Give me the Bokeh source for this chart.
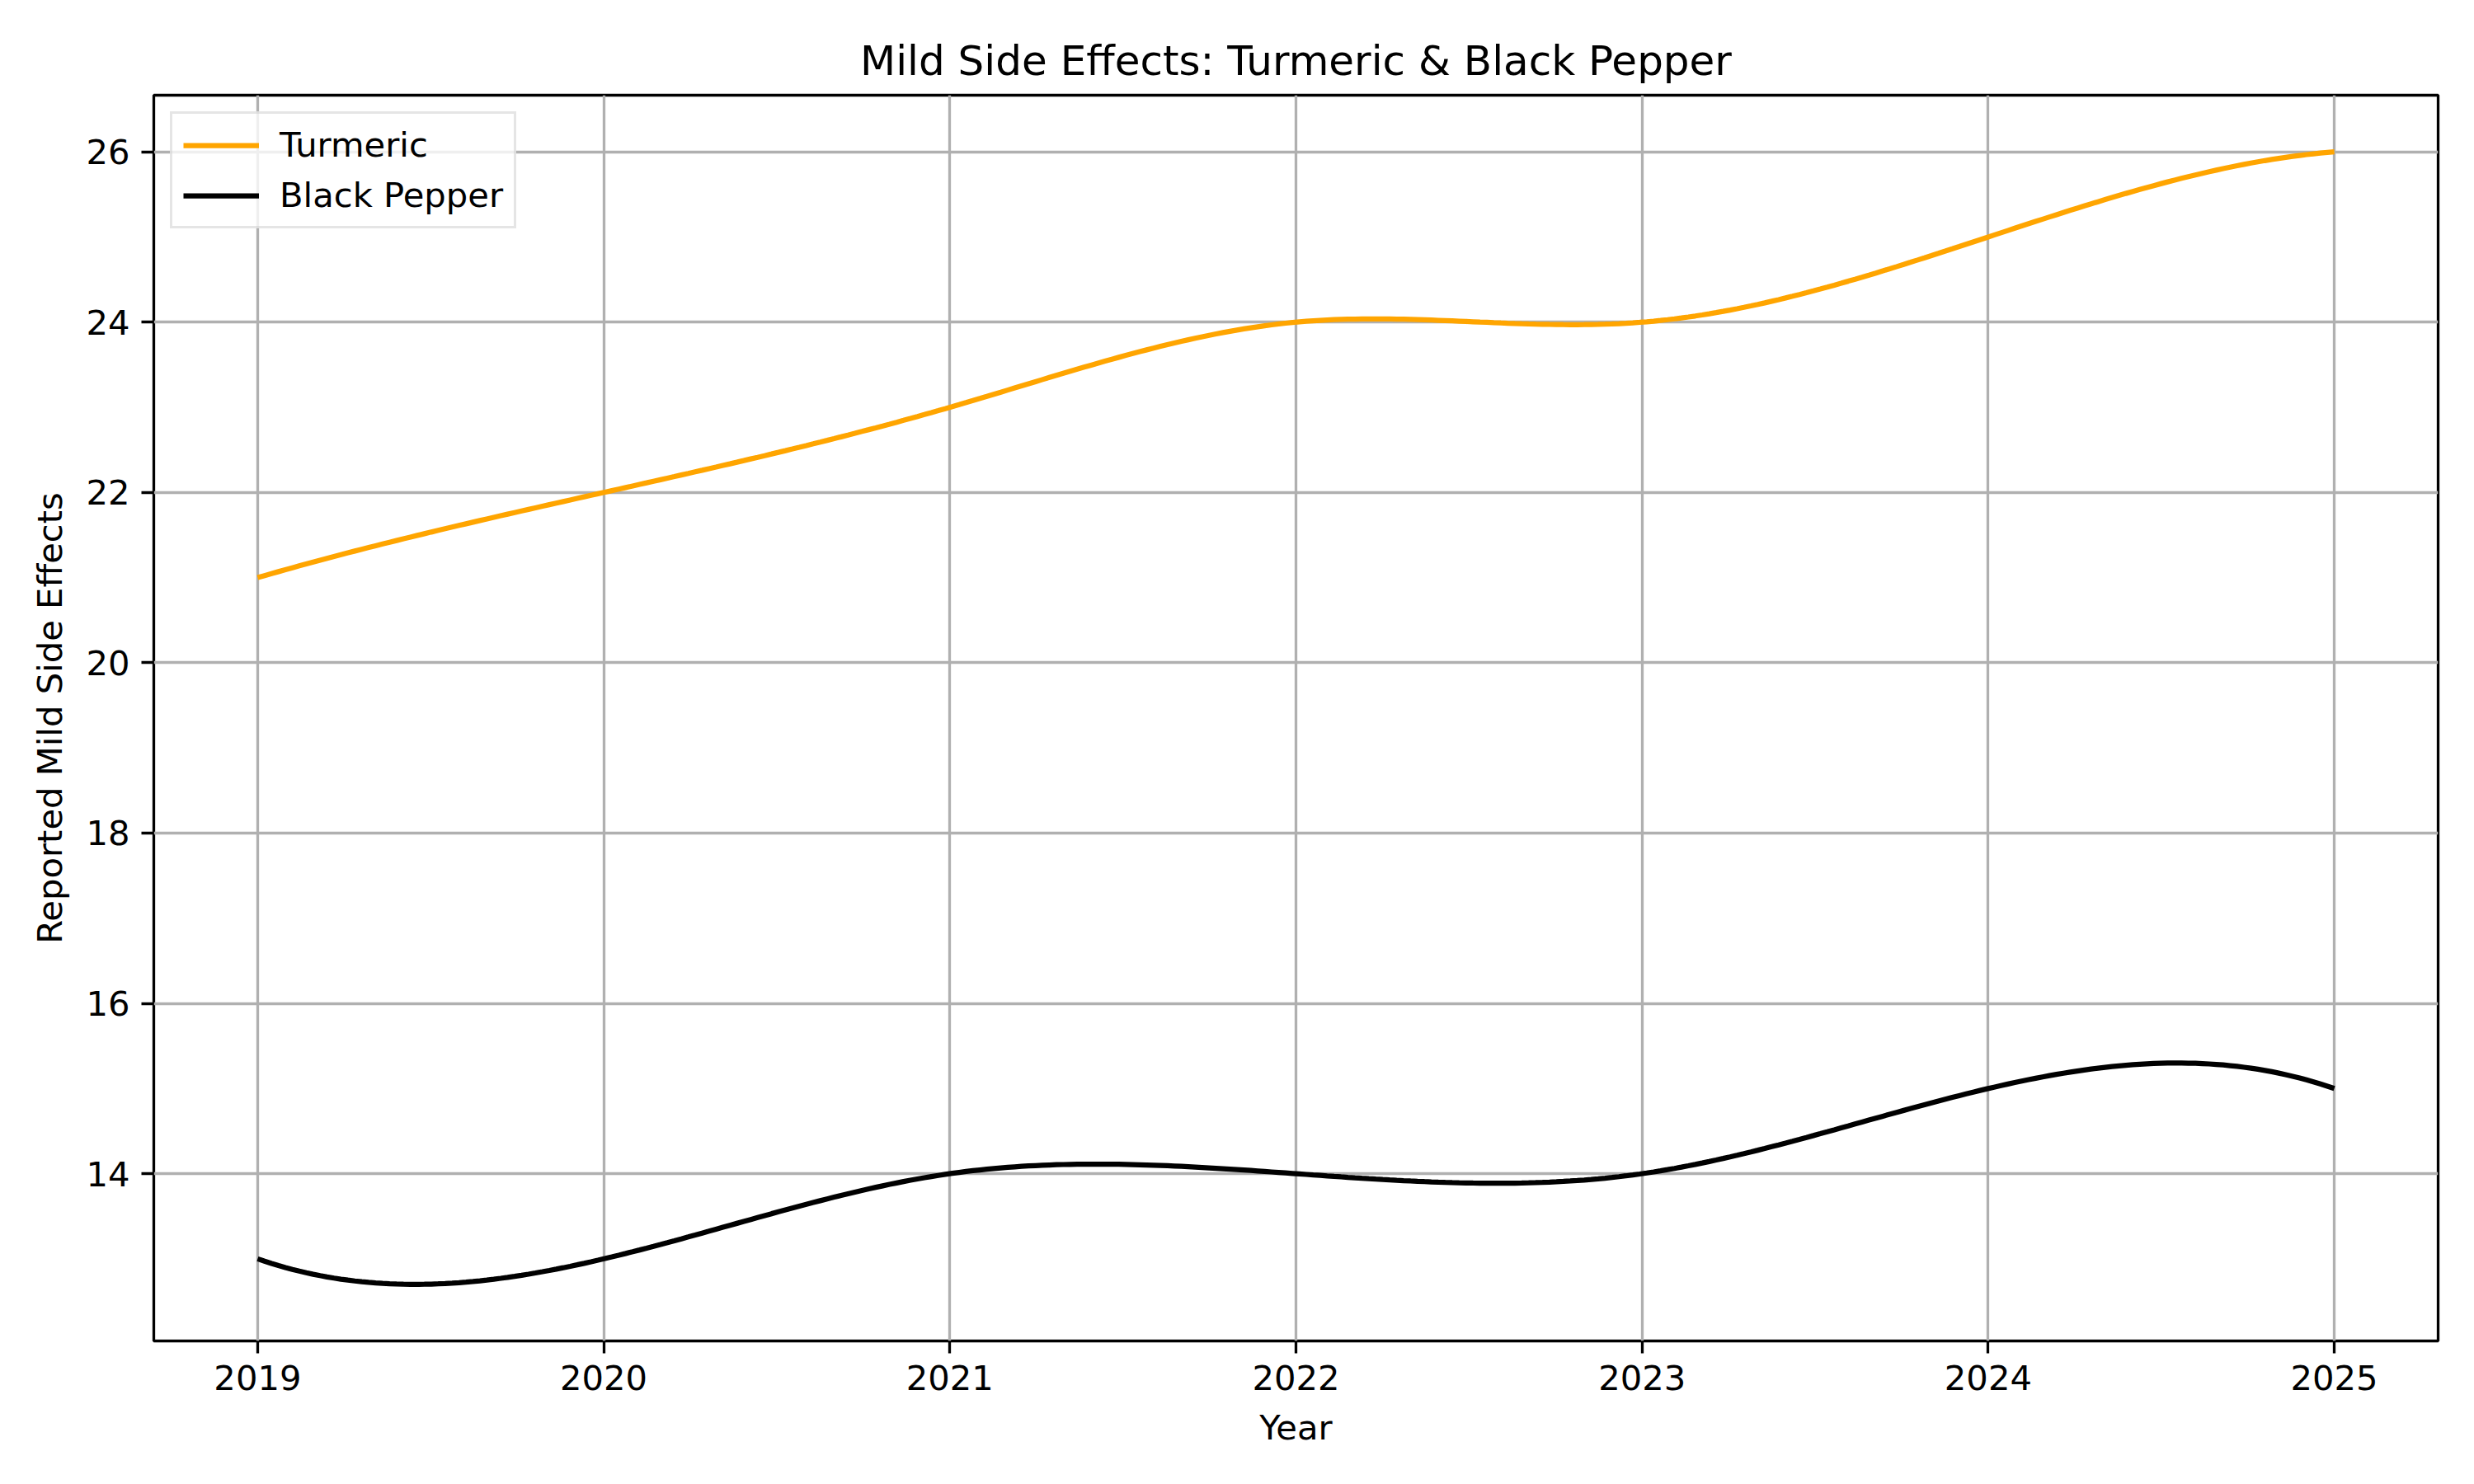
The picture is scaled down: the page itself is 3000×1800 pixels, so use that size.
import numpy as np
from bokeh.plotting import figure
from bokeh.models import Range1d, FixedTicker
from bokeh.embed import file_html
from bokeh.resources import INLINE

years = [2019, 2020, 2021, 2022, 2023, 2024, 2025]
turmeric = [21, 22, 23, 24, 24, 25, 26]
black_pepper = [13, 13, 14, 14, 14, 15, 15]
x_ticks = [2019, 2020, 2021, 2022, 2023, 2024, 2025]
y_ticks = [14, 16, 18, 20, 22, 24, 26]

FONT = "DejaVu Sans"


def spline_not_a_knot(x, y, xs):
    x = np.asarray(x, float)
    y = np.asarray(y, float)
    n = len(x)
    m = n - 1
    A = np.zeros((4 * m, 4 * m))
    b = np.zeros(4 * m)
    row = 0
    for i in range(m):
        h = x[i + 1] - x[i]
        A[row, 4 * i] = 1
        b[row] = y[i]
        row += 1
        A[row, 4 * i:4 * i + 4] = [1, h, h * h, h ** 3]
        b[row] = y[i + 1]
        row += 1
    for i in range(m - 1):
        h = x[i + 1] - x[i]
        A[row, 4 * i:4 * i + 4] = [0, 1, 2 * h, 3 * h * h]
        A[row, 4 * (i + 1) + 1] = -1
        row += 1
        A[row, 4 * i:4 * i + 4] = [0, 0, 2, 6 * h]
        A[row, 4 * (i + 1) + 2] = -2
        row += 1
    A[row, 3] = 1
    A[row, 7] = -1
    row += 1
    A[row, 4 * (m - 2) + 3] = 1
    A[row, 4 * (m - 1) + 3] = -1
    coef = np.linalg.solve(A, b).reshape(m, 4)
    idx = np.clip(np.searchsorted(x, xs, side="right") - 1, 0, m - 1)
    t = xs - x[idx]
    c = coef[idx]
    return c[:, 0] + c[:, 1] * t + c[:, 2] * t ** 2 + c[:, 3] * t ** 3


xs = np.linspace(min(years), max(years), 300)
t_s = spline_not_a_knot(years, turmeric, xs)
b_s = spline_not_a_knot(years, black_pepper, xs)

lo = min(t_s.min(), b_s.min())
hi = max(t_s.max(), b_s.max())
pad_y = 0.05 * (hi - lo)
pad_x = 0.05 * (max(years) - min(years))

p = figure(
    output_backend="svg",
    toolbar_location=None,
    frame_width=2770,
    frame_height=1511,
    min_border_left=186,
    min_border_right=36,
    min_border_top=115,
    min_border_bottom=150,
    x_range=Range1d(min(years) - pad_x, max(years) + pad_x),
    y_range=Range1d(lo - pad_y, hi + pad_y),
    title="Mild Side Effects: Turmeric & Black Pepper",
)

p.background_fill_color = "white"
p.border_fill_color = "white"
p.outline_line_color = "black"
p.outline_line_width = 3.3

p.title.text_font = FONT
p.title.text_font_size = "50px"
p.title.text_font_style = "normal"
p.title.align = "center"
p.title.text_color = "black"
p.title.standoff = 26

for ax in (p.xaxis[0], p.yaxis[0]):
    ax.axis_line_color = None
    ax.major_tick_line_color = "black"
    ax.major_tick_line_width = 3.3
    ax.major_tick_out = 15
    ax.major_tick_in = 0
    ax.minor_tick_line_color = None
    ax.major_label_text_font = FONT
    ax.major_label_text_font_size = "41.7px"
    ax.major_label_text_color = "black"
    ax.major_label_standoff = 14
    ax.axis_label_text_font = FONT
    ax.axis_label_text_font_size = "41.7px"
    ax.axis_label_text_font_style = "normal"
    ax.axis_label_text_color = "black"
    ax.axis_label_standoff = 16

p.xaxis[0].axis_label_standoff = 18
p.xaxis[0].ticker = FixedTicker(ticks=x_ticks)
p.yaxis[0].ticker = FixedTicker(ticks=y_ticks)
p.xaxis[0].axis_label = "Year"
p.yaxis[0].axis_label = "Reported Mild Side Effects"

p.xgrid.ticker = FixedTicker(ticks=x_ticks)
p.ygrid.ticker = FixedTicker(ticks=y_ticks)
for g in (p.xgrid[0], p.ygrid[0]):
    g.grid_line_color = "#b0b0b0"
    g.grid_line_width = 3.3

p.line(xs, t_s, line_color="orange", line_width=6.25, legend_label="Turmeric")
p.line(xs, b_s, line_color="black", line_width=6.25, legend_label="Black Pepper")

lg = p.legend[0]
lg.location = "top_left"
lg.margin = 20
lg.padding = 13
lg.spacing = 12
lg.glyph_width = 92
lg.glyph_height = 42
lg.label_height = 42
lg.label_standoff = 25
lg.label_text_font = FONT
lg.label_text_font_size = "41.7px"
lg.label_text_color = "black"
lg.border_line_color = "#cccccc"
lg.border_line_width = 3.3
lg.background_fill_alpha = 0.8

open("out.html", "w").write(file_html(p, INLINE))
